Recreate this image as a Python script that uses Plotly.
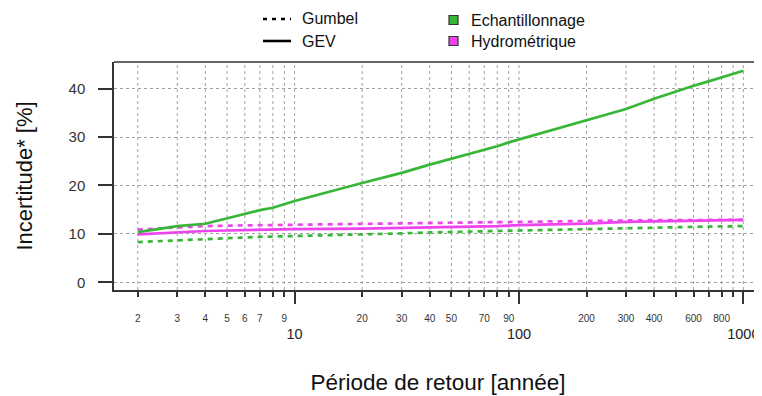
import math
import plotly.graph_objects as go

# ---- data ----
periods = [2, 3, 4, 5, 6, 7, 8, 9, 10, 20, 30, 40, 50, 60, 70, 80, 90, 100,
           200, 300, 400, 500, 600, 700, 800, 900, 1000]
echant_gev = [10.35, 11.6, 12.1, 13.2, 14.2, 14.9, 15.4, 16.1, 16.8, 20.5, 22.6, 24.3,
              25.5, 26.5, 27.4, 28.1, 28.9, 29.5, 33.4, 35.8, 37.9, 39.4, 40.6, 41.5,
              42.3, 43.0, 43.7]
echant_gumbel = [8.3, 8.7, 9.0, 9.2, 9.3, 9.4, 9.45, 9.5, 9.55, 9.8, 10.1, 10.3,
                 10.4, 10.5, 10.6, 10.7, 10.75, 10.8, 11.0, 11.2, 11.3, 11.4, 11.45, 11.5,
                 11.55, 11.6, 11.6]
hydro_gev = [9.9, 10.4, 10.6, 10.7, 10.8, 10.85, 10.9, 10.95, 11.0, 11.1, 11.2, 11.3,
             11.4, 11.5, 11.55, 11.6, 11.7, 11.8, 12.1, 12.5, 12.6, 12.7, 12.75, 12.8,
             12.85, 12.9, 12.9]
hydro_gumbel = [10.9, 11.4, 11.6, 11.7, 11.75, 11.8, 11.85, 11.9, 11.9, 12.1, 12.2, 12.3,
                12.35, 12.4, 12.45, 12.5, 12.55, 12.6, 12.75, 12.8, 12.85, 12.85, 12.9, 12.9,
                12.9, 12.9, 12.9]

minor_vals = [2, 3, 4, 5, 6, 7, 8, 9, 20, 30, 40, 50, 60, 70, 80, 90,
              200, 300, 400, 500, 600, 700, 800, 900]
minor_text = ["2", "3", "4", "5", "6", "7", "", "9", "20", "30", "40", "50", "", "70", "", "90",
              "200", "300", "400", "", "600", "", "800", ""]
major_vals = [10, 100, 1000]
major_text = ["10", "100", "1000"]
grid_vals = [2, 3, 4, 5, 6, 7, 8, 9, 10, 20, 30, 40, 50, 60, 70, 80, 90, 100,
             200, 300, 400, 500, 600, 700, 800, 900, 1000]
y_ticks = [0, 10, 20, 30, 40]

legend_lines = ["Gumbel", "GEV"]
legend_boxes = ["Echantillonnage", "Hydrométrique"]

GREEN = "#38b638"
MAGENTA = "#ee44ee"
FONT = "Liberation Sans, Arial, sans-serif"
AXC = "#333333"

# page body has an 8px margin: the figure starts at (8, 8)
OFF = 8
W, H = 762 - OFF, 396 - OFF
L, T, B = 114 - OFF, 62 - OFF, 106

fig = go.Figure()

def add(y, color, dash):
    fig.add_trace(go.Scatter(x=periods, y=y, mode="lines",
                             line=dict(color=color, width=2.7, dash=dash),
                             showlegend=False, hoverinfo="skip"))

add(echant_gumbel, GREEN, "5px,5px")
add(hydro_gumbel, MAGENTA, "5px,5px")
add(hydro_gev, MAGENTA, "solid")
add(echant_gev, GREEN, "solid")

# invisible trace for the secondary (major) x-axis
fig.add_trace(go.Scatter(x=[10], y=[None], xaxis="x2", showlegend=False, hoverinfo="skip"))

xr = [math.log10(1.567), math.log10(1211)]

# vertical dotted grid lines
for v in grid_vals:
    fig.add_shape(type="line", xref="x", yref="paper", x0=v, x1=v, y0=0, y1=1,
                  line=dict(color="#a0a0a0", width=1, dash="dot"), layer="below")

fig.update_layout(
    width=W, height=H,
    margin=dict(l=L, r=0, t=T, b=B, pad=0, autoexpand=False),
    paper_bgcolor="white", plot_bgcolor="white",
    font=dict(family=FONT, color="#222222"),
    showlegend=False,
    xaxis=dict(type="log", range=xr, tickmode="array", tickvals=minor_vals, ticktext=minor_text,
               ticks="outside", ticklen=5, tickwidth=1.5, tickcolor=AXC, automargin=False,
               tickfont=dict(size=10, color="#333333"), ticklabelstandoff=13,
               showgrid=False, zeroline=False, showline=True, linecolor=AXC, linewidth=1.5,
               title=dict(text="Période de retour [année]", font=dict(size=22.5, color="#111111"),
                          standoff=51)),
    xaxis2=dict(type="log", range=xr, overlaying="x", anchor="y", side="bottom",
                tickmode="array", tickvals=major_vals, ticktext=major_text, automargin=False,
                ticks="outside", ticklen=13, tickwidth=1.5, tickcolor=AXC,
                tickfont=dict(size=14.5, color="#222222"), ticklabelstandoff=18,
                showgrid=False, zeroline=False, showline=False),
    yaxis=dict(range=[-1.59, 45.5], tickmode="array", tickvals=y_ticks, automargin=False,
               ticks="outside", ticklen=14, tickwidth=1.5, tickcolor=AXC,
               tickfont=dict(size=15, color="#333333"), ticklabelstandoff=10,
               showgrid=True, gridcolor="#a0a0a0", griddash="dot", gridwidth=1,
               zeroline=False, showline=True, linecolor=AXC, linewidth=1.5,
               title=dict(text="Incertitude* [%]", font=dict(size=22, color="#111111"),
                          standoff=30)),
)

# top border of the box
fig.add_shape(type="line", xref="paper", yref="paper", x0=0, x1=1, y0=1, y1=1,
              line=dict(color=AXC, width=1.5))

# legend (drawn manually in the top margin); coordinates are page pixels
ph = H - T - B
pw = W - L
def px(x):
    return (x - OFF - L) / pw
def py(y):
    return (H - B - (y - OFF)) / ph

for i, (name, dash) in enumerate(zip(legend_lines, ["dot", "solid"])):
    yy = 19 + i * 22
    fig.add_shape(type="line", xref="paper", yref="paper",
                  x0=px(263), x1=px(291), y0=py(yy), y1=py(yy),
                  line=dict(color="black", width=2.6,
                            dash="4px,5px" if dash == "dot" else "solid"))
    fig.add_annotation(xref="paper", yref="paper", x=px(300), y=py(yy), text=name,
                       showarrow=False, xanchor="left", yanchor="middle",
                       font=dict(size=16, color="#111111", family=FONT))

for i, (name, col) in enumerate(zip(legend_boxes, [GREEN, MAGENTA])):
    yy = 20 + i * 21
    fig.add_shape(type="rect", xref="paper", yref="paper",
                  x0=px(449), x1=px(458), y0=py(yy - 4.5), y1=py(yy + 4.5),
                  line=dict(color="#333333", width=1.2), fillcolor=col)
    fig.add_annotation(xref="paper", yref="paper", x=px(469), y=py(yy), text=name,
                       showarrow=False, xanchor="left", yanchor="middle",
                       font=dict(size=16, color="#111111", family=FONT))

fig.write_html("out.html")
